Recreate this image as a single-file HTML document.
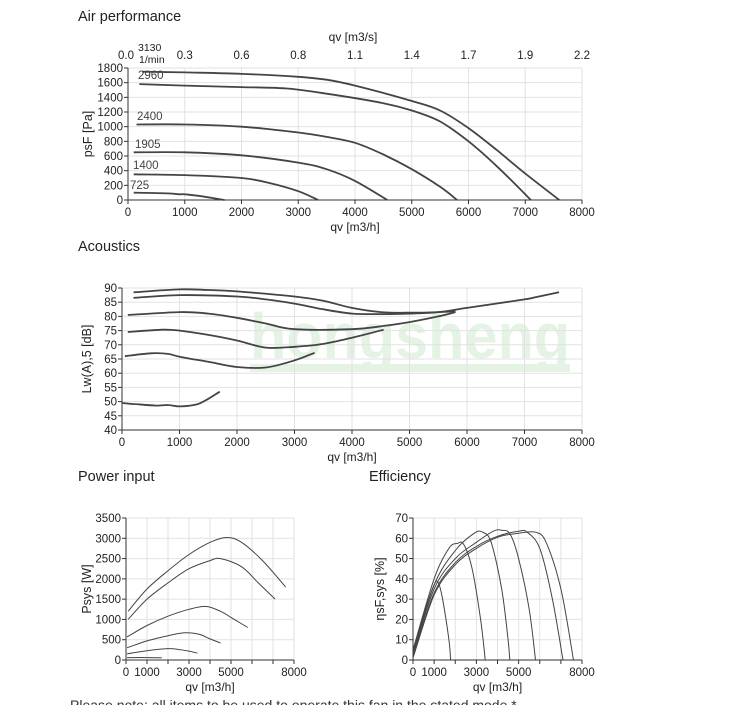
<!DOCTYPE html>
<html><head><meta charset="utf-8"><style>
html,body{margin:0;padding:0;background:#fff;width:750px;height:705px;overflow:hidden}
svg{display:block}
text{font-family:"Liberation Sans",sans-serif;fill:#222}
</style></head><body>
<svg id="s" width="750" height="705" viewBox="0 0 750 705" xmlns="http://www.w3.org/2000/svg">
<g opacity="0.16">
<text x="250" y="358" font-size="64" font-weight="bold" textLength="320" lengthAdjust="spacingAndGlyphs" style="fill:#5cb85c">hongsheng</text>
<rect x="250" y="364" width="320" height="8" style="fill:#5cb85c"/>
</g>
<text x="78" y="21" font-size="14.5">Air performance</text>
<text x="78" y="251" font-size="14.5">Acoustics</text>
<text x="78" y="481" font-size="14.5">Power input</text>
<text x="369" y="481" font-size="14.5">Efficiency</text>
<text x="70" y="710" font-size="14" style="fill:#333">Please note: all items to be used to operate this fan in the stated mode.*</text>
</svg>
<script>
var s=document.getElementById('s'),NS='http://www.w3.org/2000/svg';
function el(t,a,txt){var e=document.createElementNS(NS,t);for(var k in a)e.setAttribute(k,a[k]);if(txt!==undefined)e.textContent=txt;s.appendChild(e);return e;}
function path(pts,X,Y,w){var p=pts.map(function(q){return [X(q[0]),Y(q[1])]});var d='M'+p[0][0].toFixed(1)+','+p[0][1].toFixed(1);
for(var i=0;i<p.length-1;i++){var p0=p[i-1]||p[i],p1=p[i],p2=p[i+1],p3=p[i+2]||p2;
var c1=[p1[0]+(p2[0]-p0[0])/6,p1[1]+(p2[1]-p0[1])/6],c2=[p2[0]-(p3[0]-p1[0])/6,p2[1]-(p3[1]-p1[1])/6];
d+='C'+c1[0].toFixed(1)+','+c1[1].toFixed(1)+' '+c2[0].toFixed(1)+','+c2[1].toFixed(1)+' '+p2[0].toFixed(1)+','+p2[1].toFixed(1);}
el('path',{d:d,fill:'none',stroke:'#444','stroke-width':w,'stroke-linejoin':'round'});}
function chart(o){var X=function(v){return o.x0+(o.x1-o.x0)*v/o.xmax},Y=function(v){return o.y0-(o.y0-o.y1)*(v-o.ymin)/(o.ymax-o.ymin)};
for(var v=0;v<=o.xmax;v+=1000){el('line',{x1:X(v),x2:X(v),y1:o.y1,y2:o.y0,stroke:'#e2e2e2','stroke-width':1});el('line',{x1:X(v),x2:X(v),y1:o.y0,y2:o.y0+4,stroke:'#333'});}
for(var v=o.ymin;v<=o.ymax;v+=o.ystep){el('line',{x1:o.x0,x2:o.x1,y1:Y(v),y2:Y(v),stroke:'#e2e2e2','stroke-width':1});el('line',{x1:o.x0-4,x2:o.x0,y1:Y(v),y2:Y(v),stroke:'#333'});
el('text',{x:o.x0-5,y:Y(v)+4,'font-size':11.5,'text-anchor':'end'},String(v));}
el('line',{x1:o.x0,x2:o.x0,y1:o.y1,y2:o.y0,stroke:'#333'});el('line',{x1:o.x0,x2:o.x1,y1:o.y0,y2:o.y0,stroke:'#333'});
(o.xl||[0,1000,2000,3000,4000,5000,6000,7000,8000]).forEach(function(v){el('text',{x:X(v),y:o.y0+16,'font-size':11.5,'text-anchor':'middle'},String(v));});
el('text',{x:(o.x0+o.x1)/2,y:o.y0+31,'font-size':12,'text-anchor':'middle'},'qv [m3/h]');
el('text',{x:0,y:0,'font-size':12.5,'text-anchor':'middle',transform:'translate('+o.yx+','+((o.y0+o.y1)/2)+') rotate(-90)'},o.yt);
o.c.forEach(function(c){path(c,X,Y,o.w);});return {X:X,Y:Y};}
var r=chart({x0:128,x1:582,xmax:8000,y0:200,y1:68,ymin:0,ymax:1800,ystep:200,yx:92,yt:'psF [Pa]',w:1.8,c:[
[[250,1750],[1000,1740],[2000,1720],[3000,1680],[3500,1640],[4000,1560],[5000,1350],[5500,1220],[6000,980],[6500,680],[7000,360],[7600,0]],
[[200,1580],[1000,1560],[2000,1540],[2800,1520],[3500,1450],[4500,1320],[5000,1220],[5500,1070],[6000,800],[6500,460],[7100,0]],
[[150,1030],[1000,1030],[2000,1000],[3000,920],[3500,860],[4000,780],[4500,620],[5000,420],[5500,180],[5800,0]],
[[100,650],[1000,650],[2000,610],[3000,510],[3500,420],[4000,260],[4570,0]],
[[100,350],[1000,340],[2000,300],[2500,230],[3000,120],[3350,0]],
[[100,100],[700,90],[900,78],[1000,78],[1300,50],[1700,0]]]});
[['2960',138,79],['2400',137,120],['1905',135,148],['1400',133,169],['725',130,189]].forEach(function(a){el('text',{x:a[1],y:a[2],'font-size':11.5,style:'fill:#444'},a[0]);});
['0.0','0.3','0.6','0.8','1.1','1.4','1.7','1.9','2.2'].forEach(function(t,i){el('text',{x:r.X(i*1000)+(i==0?-2:0),y:59,'font-size':11.5,'text-anchor':'middle'},t);});
el('text',{x:138,y:51,'font-size':10.5},'3130');el('text',{x:139,y:63,'font-size':10.5},'1/min');
el('text',{x:353,y:41,'font-size':12,'text-anchor':'middle'},'qv [m3/s]');
chart({x0:122,x1:582,xmax:8000,y0:430,y1:288,ymin:40,ymax:90,ystep:5,yx:91,yt:'Lw(A),5 [dB]',w:1.8,c:[
[[200,88.5],[1000,89.5],[1500,89.3],[2000,88.8],[3000,87],[3500,85.5],[4000,83],[4500,81.5],[5000,81.3],[5500,81.5],[5800,81.8]],
[[200,86.5],[1000,87.5],[2000,87],[2500,86],[3000,84.5],[3500,82.5],[4000,81],[4500,80.8],[5000,81],[5500,81.5],[6000,83],[7000,86],[7200,86.8],[7600,88.5]],
[[100,80.5],[1000,81.5],[1500,81],[2000,79.5],[2500,77.5],[3000,75.5],[4000,75.5],[4500,76.5],[5000,78],[5500,80],[5800,81.5]],
[[100,74.5],[700,75.3],[1000,75],[1500,73.5],[2000,71.5],[2500,69],[3000,69.3],[3500,70.3],[4000,72.5],[4550,75.3]],
[[50,66],[500,67],[800,66.8],[1000,65.8],[1500,64],[2000,62.2],[2500,62],[3000,64.5],[3350,67.2]],
[[0,49.5],[300,49],[600,48.6],[800,48.8],[1000,48.3],[1300,49],[1500,51],[1700,53.5]]]});
chart({x0:126,x1:294,xmax:8000,y0:660,y1:518,ymin:0,ymax:3500,ystep:500,yx:91,yt:'Psys [W]',w:1,xl:[0,1000,3000,5000,8000],c:[
[[100,1200],[1000,1750],[2000,2200],[3000,2600],[4000,2900],[4800,3020],[5500,2900],[6500,2450],[7600,1800]],
[[100,1000],[1000,1500],[2000,1900],[3000,2250],[4000,2450],[4500,2500],[5500,2300],[6300,1900],[7100,1500]],
[[50,570],[1000,850],[2000,1080],[3000,1250],[3800,1320],[4500,1200],[5000,1050],[5800,800]],
[[50,300],[1000,470],[2000,600],[2800,670],[3500,630],[4000,520],[4500,420]],
[[50,150],[1000,230],[2000,280],[2500,260],[3000,220],[3400,170]],
[[50,60],[1000,60],[1700,55]]]});
chart({x0:413,x1:582,xmax:8000,y0:660,y1:518,ymin:0,ymax:70,ystep:10,yx:384,yt:'\u03b7sF,sys [%]',w:1,xl:[0,1000,3000,5000,8000],c:[
[[0,3],[500,22],[1000,37],[1200,38],[1400,30],[1700,10],[1780,0]],
[[0,5],[1000,40],[1700,55],[2100,57.5],[2400,57],[2800,45],[3200,20],[3420,0]],
[[0,4],[1000,37],[2000,54],[2900,62.5],[3300,63],[3700,58],[4200,35],[4500,10],[4580,0]],
[[0,3],[1000,35],[2000,50],[3000,58],[3800,63.5],[4200,64],[4600,62],[5000,50],[5500,25],[5800,0]],
[[0,2],[1000,33],[2000,48],[3000,56],[4000,61],[5000,63.5],[5400,63],[6000,55],[6600,30],[7100,0]],
[[0,1],[1000,32],[2000,47],[3000,55],[4000,60.5],[5000,62.5],[5800,63],[6300,58],[7000,35],[7600,0]]]});
</script>
</body></html>
